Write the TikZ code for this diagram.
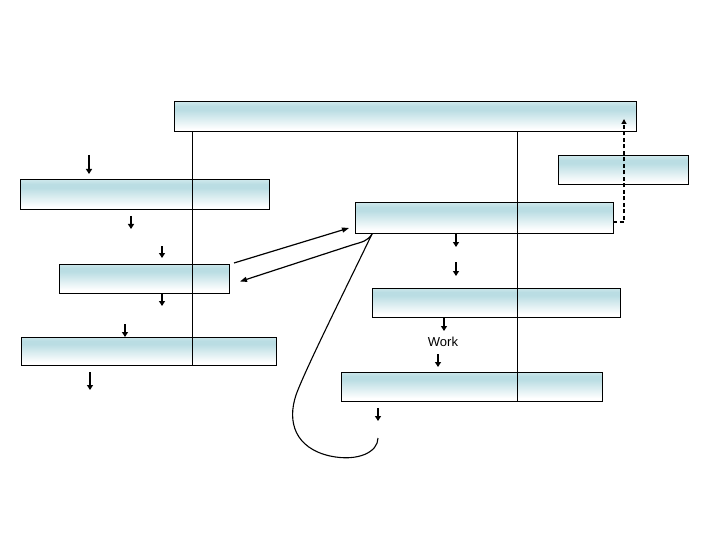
\documentclass[tikz,border=0pt]{standalone}
\usepackage{fontspec}
\setmainfont{Liberation Sans}
\usetikzlibrary{arrows.meta}
\definecolor{tealA}{RGB}{205,231,235}
\definecolor{tealB}{RGB}{186,221,227}
\pgfdeclareverticalshading{boxshade}{100bp}{color(0bp)=(white); color(25bp)=(white); color(30bp)=(white); color(62bp)=(tealB); color(68bp)=(tealB); color(75bp)=(tealA); color(100bp)=(tealA)}
\tikzset{
  box/.style={draw=black, line width=1pt, shading=boxshade, inner sep=0pt, outer sep=0pt},
  sarrow/.style={line width=1.4pt, -{Triangle[length=5pt,width=6pt]}},
  conn/.style={line width=1.1pt},
  vline/.style={line width=0.9pt},
  longarrow/.style={line width=1.2pt, -{Triangle[length=7pt,width=5pt]}},
  dasharrow/.style={line width=1.6pt, dash pattern=on 4pt off 2.5pt, -{Triangle[length=5pt,width=5pt]}},
  lbl/.style={font=\fontsize{13}{15}\selectfont, inner sep=0pt}
}
\begin{document}
\begin{tikzpicture}[x=1pt,y=-1pt]
\useasboundingbox (0,0) rectangle (720,540);
% boxes
\node[box, minimum width=462pt, minimum height=30pt] (top) at (405,117) {};
\node[box, minimum width=130pt, minimum height=29pt] (R) at (623,170.5) {};
\node[box, minimum width=249pt, minimum height=30pt] (A) at (144.5,195) {};
\node[box, minimum width=170pt, minimum height=29pt] (B) at (144,278.5) {};
\node[box, minimum width=255pt, minimum height=28pt] (C) at (148.5,351) {};
\node[box, minimum width=258pt, minimum height=30pt] (D) at (484,218) {};
\node[box, minimum width=248pt, minimum height=29pt] (E) at (496,302.5) {};
\node[box, minimum width=261pt, minimum height=29pt] (F) at (471.5,386.5) {};
% vertical lines
\coordinate (v1a) at (192.5,132); \coordinate (v1b) at (192.5,365);
\coordinate (v2a) at (517.5,132); \coordinate (v2b) at (517.5,401);
\draw[vline] (v1a) -- (v1b);
\draw[vline] (v2a) -- (v2b);
% dashed feedback
\coordinate (dz) at (613,222);
\coordinate (dc) at (624,222);
\coordinate (dt) at (624,119);
\draw[dasharrow] (dz) -- (dc) -- (dt);
% short arrows
\foreach \x/\ya/\yb in {89/155/174, 131/216/229, 162/246/258, 162/294/306, 125/324/337, 90/372/390, 456/233/247, 456/262/276, 444/318/331, 438/354/367, 378/408/421}
  \draw[sarrow] (\x,\ya) -- (\x,\yb);
\node[lbl] (work) at (443,342) {Work};
% arrows between B and D
\coordinate (bo) at (234,263);
\coordinate (di) at (349,228);
\draw[longarrow] (bo) -- (di);
\coordinate (dstart) at (372,234);
\coordinate (bi) at (240,281.5);
\draw[longarrow] (dstart) .. controls (368,241) and (362,242) .. (352,245) -- (bi);
% big loop
\coordinate (lend) at (378,438);
\draw[conn] (dstart) .. controls (345,290) and (305,370) .. (296,395) .. controls (287,422) and (295,448) .. (330,456) .. controls (358,462) and (378,452) .. (lend);
\end{tikzpicture}
\end{document}
